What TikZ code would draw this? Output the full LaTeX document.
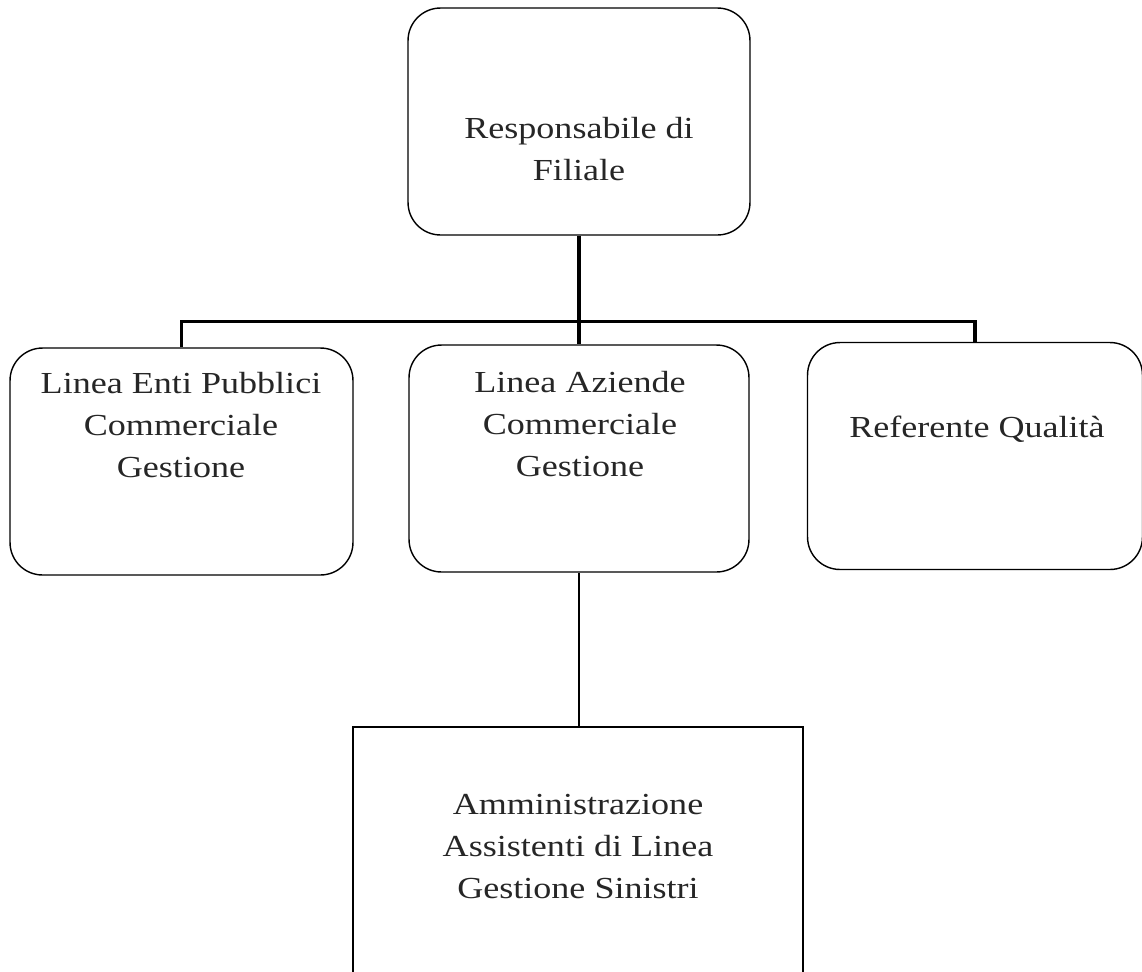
\documentclass[tikz,border=0pt]{standalone}
\usepackage{fontspec}
\setmainfont{Liberation Serif}[FakeStretch=1.18]
\begin{document}
\begin{tikzpicture}[x=0.02cm, y=-0.02cm,
  box/.style={draw, line width=0.8pt, rounded corners=0.65cm, inner sep=0pt, minimum height=4.54cm},
  sqbox/.style={draw, line width=0.8pt, inner sep=0pt},
  lbl/.style={align=center, anchor=base, inner sep=0pt, text=black!85, font=\fontsize{17.4}{23.9}\selectfont},
  trunk/.style={line width=1.8pt},
  twig/.style={line width=0.8pt}]
	\useasboundingbox (0,0) rectangle (1142,971);
	\clip (0,0) rectangle (1142,971);
	% caselle
	\node[box, minimum width=6.84cm] (resp) at (579,121.5) {};
	\node[box, minimum width=6.86cm] (enti) at (181.5,461.5) {};
	\node[box, minimum width=6.80cm] (aziende) at (579,458.5) {};
	\node[box, minimum width=6.70cm] (qualita) at (975,456) {};
	\node[sqbox, minimum width=9cm, minimum height=6cm] (amm) at (578,877) {};
	% testi (base = ultima riga)
	\node[lbl] (resptxt) at (579,180) {Responsabile di\\Filiale};
	\node[lbl] (entitxt) at (181,477) {Linea Enti Pubblici\\Commerciale\\Gestione};
	\node[lbl] (azitxt) at (580,476) {Linea Aziende\\Commerciale\\Gestione};
	\node[lbl] (qualtxt) at (977,437) {Referente Qualità};
	\node[lbl] (ammtxt) at (578,898) {Amministrazione\\Assistenti di Linea\\Gestione Sinistri};
	% collegamenti
	\draw[trunk] (resp.south) -- (aziende.north);
	\draw[trunk] (enti.north) -- ++(0,-26) -| (qualita.north);
	\draw[twig] (aziende.south) -- (aziende.south |- amm.north);
\end{tikzpicture}
\end{document}
